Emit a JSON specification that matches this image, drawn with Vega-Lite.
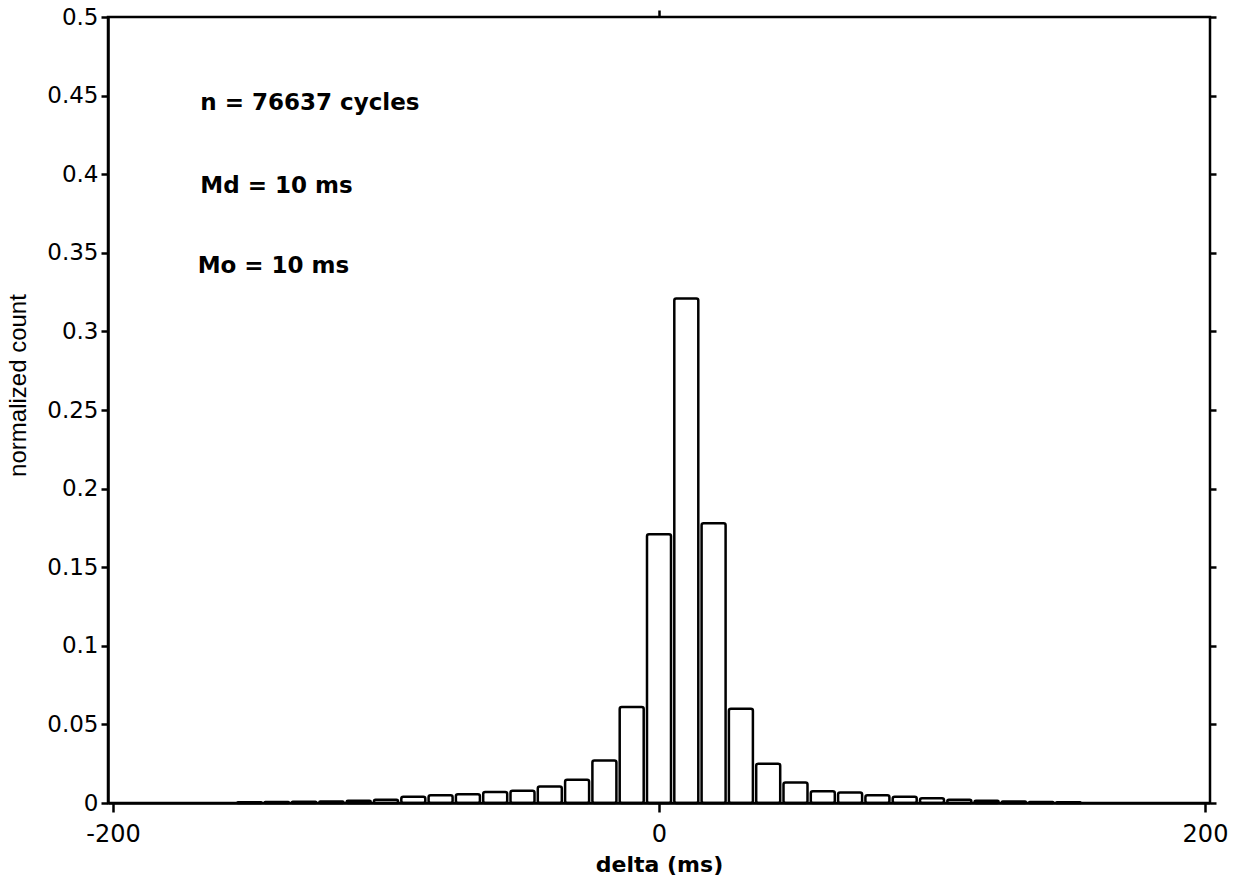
{
  "$schema": "https://vega.github.io/schema/vega-lite/v6.json",
  "width": 1102,
  "height": 786,
  "autosize": {"type": "none"},
  "padding": {"left": 108, "top": 17, "right": 31, "bottom": 89},
  "background": "white",
  "config": {
    "font": "DejaVu Sans",
    "view": {"stroke": "black", "strokeWidth": 2.5},
    "axis": {
      "domainColor": "black",
      "domainWidth": 2.5,
      "tickColor": "black",
      "tickWidth": 2.5,
      "labelColor": "black",
      "titleColor": "black",
      "labelFont": "DejaVu Sans",
      "titleFont": "DejaVu Sans",
      "grid": false
    }
  },
  "datasets": {
    "hist": [
      {"delta": -150, "count": 0.0005},
      {"delta": -140, "count": 0.0006},
      {"delta": -130, "count": 0.0008},
      {"delta": -120, "count": 0.001},
      {"delta": -110, "count": 0.0015},
      {"delta": -100, "count": 0.002},
      {"delta": -90, "count": 0.004},
      {"delta": -80, "count": 0.005},
      {"delta": -70, "count": 0.0055},
      {"delta": -60, "count": 0.007},
      {"delta": -50, "count": 0.0078},
      {"delta": -40, "count": 0.0105},
      {"delta": -30, "count": 0.0148},
      {"delta": -20, "count": 0.027},
      {"delta": -10, "count": 0.061},
      {"delta": 0, "count": 0.171},
      {"delta": 10, "count": 0.321},
      {"delta": 20, "count": 0.178},
      {"delta": 30, "count": 0.06},
      {"delta": 40, "count": 0.025},
      {"delta": 50, "count": 0.013},
      {"delta": 60, "count": 0.0075},
      {"delta": 70, "count": 0.0066},
      {"delta": 80, "count": 0.005},
      {"delta": 90, "count": 0.004},
      {"delta": 100, "count": 0.003},
      {"delta": 110, "count": 0.002},
      {"delta": 120, "count": 0.0015},
      {"delta": 130, "count": 0.001},
      {"delta": 140, "count": 0.0006},
      {"delta": 150, "count": 0.0004}
    ],
    "notes": [
      {"label": "n = 76637 cycles", "delta": -168, "count": 0.445},
      {"label": "Md = 10 ms", "delta": -168, "count": 0.3925},
      {"label": "Mo = 10 ms", "delta": -169, "count": 0.3415}
    ]
  },
  "layer": [
    {
      "data": {"name": "hist"},
      "mark": {
        "type": "bar",
        "fill": "white",
        "stroke": "black",
        "strokeWidth": 2.5,
        "size": 24,
        "cornerRadius": 2,
        "clip": true
      },
      "encoding": {
        "x": {
          "field": "delta",
          "type": "quantitative",
          "scale": {"domain": [-200, 200], "nice": false, "zero": false},
          "axis": {
            "title": "delta (ms)",
            "titleFontSize": 22,
            "titleFontWeight": "bold",
            "titlePadding": 8,
            "values": [-200, 0, 200],
            "labelExpr": "toString(datum.value)",
            "labelFontSize": 24,
            "labelPadding": 10,
            "tickSize": 9,
            "labelFlush": false
          }
        },
        "y": {
          "field": "count",
          "type": "quantitative",
          "scale": {"domain": [0, 0.5], "nice": false},
          "axis": {
            "title": "normalized count",
            "titleFont": "Liberation Sans",
            "titleFontSize": 24,
            "titleFontWeight": "normal",
            "titleX": -78,
            "titleY": 368,
            "titleBaseline": "bottom",
            "values": [0, 0.05, 0.1, 0.15, 0.2, 0.25, 0.3, 0.35, 0.4, 0.45, 0.5],
            "format": "~g",
            "labelFontSize": 23,
            "labelPadding": 3,
            "tickSize": 7,
            "labelFlush": false
          }
        }
      }
    },
    {
      "data": {"name": "notes"},
      "mark": {
        "type": "text",
        "align": "left",
        "baseline": "middle",
        "font": "DejaVu Sans",
        "fontSize": 23,
        "fontWeight": "bold",
        "color": "black"
      },
      "encoding": {
        "text": {"field": "label"},
        "x": {
          "field": "delta",
          "type": "quantitative",
          "axis": {
            "orient": "top",
            "values": [0],
            "labels": false,
            "title": null,
            "domain": false,
            "tickSize": 7
          }
        },
        "y": {
          "field": "count",
          "type": "quantitative",
          "axis": {
            "orient": "right",
            "values": [0, 0.05, 0.1, 0.15, 0.2, 0.25, 0.3, 0.35, 0.4, 0.45, 0.5],
            "labels": false,
            "title": null,
            "domain": false,
            "tickSize": 6
          }
        }
      }
    }
  ],
  "resolve": {"axis": {"x": "independent", "y": "independent"}}
}
